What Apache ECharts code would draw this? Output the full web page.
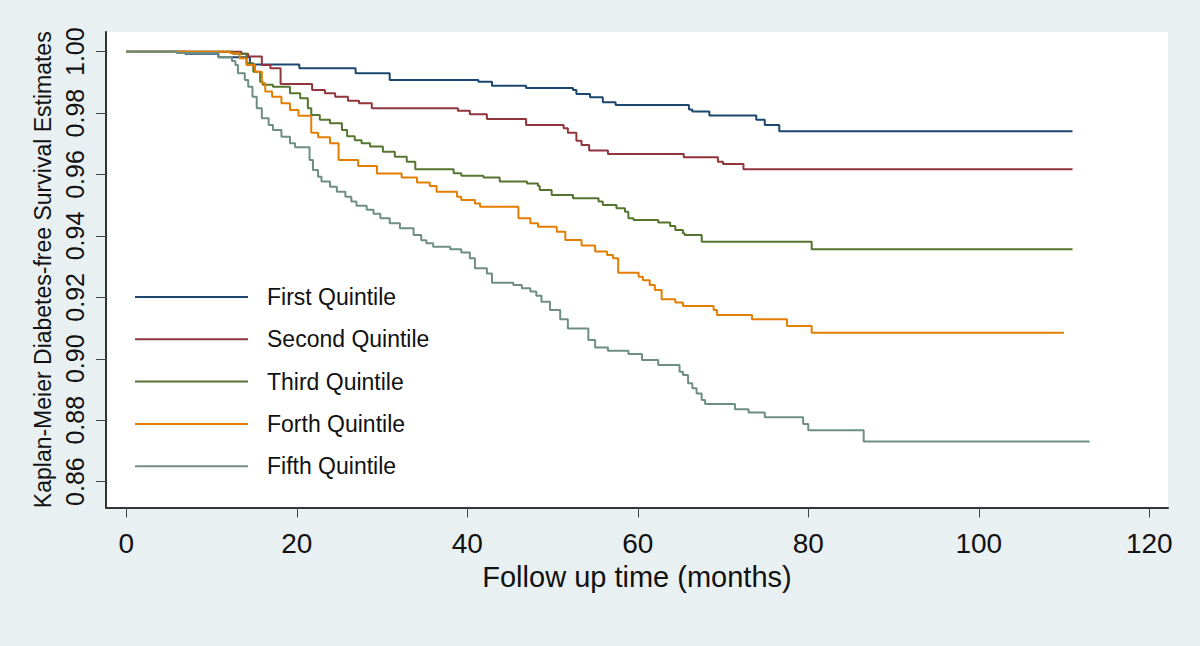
<!DOCTYPE html>
<html>
<head>
<meta charset="utf-8">
<script src="https://cdn.jsdelivr.net/npm/echarts@6/dist/echarts.min.js"></script>
<style>
  html, body { margin: 0; padding: 0; background: #e9f0f2; }
  #chart { width: 1200px; height: 646px; }
</style>
</head>
<body>
<div id="chart"></div>
<script>
// Kaplan-Meier step curves, [month, survival]
var firstQuintile = [
  [0, 1.0], [6.9, 0.9993], [10.8, 0.9982], [14.5, 0.9958], [20.3, 0.9946], [26.9, 0.9930],
  [30.9, 0.9908], [41.3, 0.9902], [42.9, 0.9889], [46.9, 0.9882], [52.4, 0.9875], [52.8, 0.9862],
  [54.4, 0.9852], [55.9, 0.9835], [57.4, 0.9826], [66.0, 0.9812], [66.4, 0.9805], [68.4, 0.9792],
  [73.9, 0.9778], [74.9, 0.9761], [76.6, 0.9741], [111.0, 0.9741]
];
var secondQuintile = [
  [0, 1.0], [13.5, 0.9993], [14.3, 0.9984], [15.9, 0.9957], [16.9, 0.9946], [18.1, 0.9895],
  [21.8, 0.9875], [23.3, 0.9865], [24.5, 0.9853], [26.0, 0.9840], [27.3, 0.9832], [28.8, 0.9816],
  [38.9, 0.9808], [40.3, 0.9796], [42.3, 0.9781], [46.9, 0.9761], [51.3, 0.9751], [51.8, 0.9736],
  [52.8, 0.9710], [53.4, 0.9696], [54.3, 0.9678], [56.5, 0.9667], [65.4, 0.9656], [69.4, 0.9642],
  [70.0, 0.9634], [72.4, 0.9617], [111.0, 0.9617]
];
var thirdQuintile = [
  [0, 1.0], [12.5, 0.9993], [14.1, 0.9962], [14.9, 0.9935], [15.7, 0.9902], [16.0, 0.9892],
  [17.2, 0.9886], [19.2, 0.9865], [20.4, 0.9848], [21.3, 0.9816], [21.7, 0.9794], [22.7, 0.9778],
  [23.9, 0.9767], [25.3, 0.9745], [25.9, 0.9725], [26.8, 0.9712], [27.6, 0.9702], [28.6, 0.9691],
  [30.1, 0.9674], [31.5, 0.9658], [32.9, 0.9642], [33.9, 0.9617], [38.4, 0.9604], [39.3, 0.9596],
  [41.9, 0.9590], [43.8, 0.9577], [47.0, 0.9571], [48.3, 0.9563], [48.5, 0.9550], [49.9, 0.9533],
  [52.4, 0.9523], [55.4, 0.9512], [55.9, 0.9501], [57.5, 0.9490], [58.5, 0.9479], [58.9, 0.9458],
  [59.5, 0.9452], [62.4, 0.9444], [63.8, 0.9432], [64.4, 0.9419], [65.3, 0.9409], [65.5, 0.9403],
  [67.5, 0.9381], [80.4, 0.9357], [111.0, 0.9357]
];
var forthQuintile = [
  [0, 1.0], [12.2, 0.9995], [13.3, 0.9979], [14.1, 0.9957], [15.1, 0.9935], [15.9, 0.9897],
  [16.3, 0.9870], [17.1, 0.9853], [18.2, 0.9832], [19.2, 0.9810], [20.2, 0.9791], [21.7, 0.9736],
  [22.5, 0.9721], [23.9, 0.9702], [24.9, 0.9647], [27.2, 0.9628], [29.4, 0.9603], [32.3, 0.9590],
  [34.1, 0.9574], [35.6, 0.9563], [36.4, 0.9544], [38.8, 0.9528], [39.3, 0.9517], [40.9, 0.9506],
  [41.5, 0.9495], [46.0, 0.9458], [47.4, 0.9441], [48.3, 0.9430], [50.5, 0.9414], [51.5, 0.9387],
  [53.4, 0.9369], [55.0, 0.9349], [56.4, 0.9338], [57.1, 0.9327], [57.7, 0.9280], [60.1, 0.9267],
  [60.6, 0.9256], [61.4, 0.9240], [62.0, 0.9224], [62.8, 0.9194], [64.4, 0.9183], [65.3, 0.9172],
  [68.9, 0.9159], [69.3, 0.9143], [73.4, 0.9129], [77.5, 0.9107], [80.4, 0.9085], [110.0, 0.9085]
];
var fifthQuintile = [
  [0, 1.0], [5.9, 0.9996], [10.8, 0.9982], [12.4, 0.9970], [12.8, 0.9957], [13.1, 0.9930],
  [13.9, 0.9908], [14.3, 0.9886], [14.8, 0.9853], [15.3, 0.9816], [15.9, 0.9783], [16.7, 0.9761],
  [17.2, 0.9745], [18.2, 0.9723], [19.2, 0.9702], [19.8, 0.9689], [21.5, 0.9647], [21.9, 0.9615],
  [22.5, 0.9593], [22.9, 0.9577], [23.9, 0.9560], [24.7, 0.9544], [25.7, 0.9528], [26.4, 0.9512],
  [27.0, 0.9498], [28.2, 0.9485], [29.0, 0.9472], [29.8, 0.9458], [30.9, 0.9441], [32.1, 0.9425],
  [33.7, 0.9403], [34.6, 0.9386], [35.2, 0.9376], [36.0, 0.9365], [38.0, 0.9357], [39.3, 0.9346],
  [40.3, 0.9327], [40.9, 0.9295], [42.3, 0.9278], [42.9, 0.9248], [45.4, 0.9240], [46.4, 0.9230],
  [47.4, 0.9219], [48.1, 0.9205], [48.7, 0.9186], [49.7, 0.9159], [50.9, 0.9129], [51.8, 0.9099],
  [54.2, 0.9061], [55.0, 0.9037], [56.5, 0.9026], [58.9, 0.9016], [60.5, 0.8996], [62.4, 0.8980],
  [64.9, 0.8958], [65.3, 0.8947], [65.9, 0.8920], [66.4, 0.8904], [66.9, 0.8887], [67.5, 0.8866],
  [67.9, 0.8853], [71.4, 0.8836], [73.0, 0.8825], [74.9, 0.8810], [79.4, 0.8788], [80.0, 0.8767],
  [86.5, 0.8731], [113.0, 0.8731]
];

var seriesNames = ['First Quintile', 'Second Quintile', 'Third Quintile', 'Forth Quintile', 'Fifth Quintile'];
var seriesData = [firstQuintile, secondQuintile, thirdQuintile, forthQuintile, fifthQuintile];
var colors = ['#1a476f', '#90353b', '#55752f', '#e37e00', '#6e8e84'];
var xTicks = [0, 20, 40, 60, 80, 100, 120];
var yTicks = [0.86, 0.88, 0.90, 0.92, 0.94, 0.96, 0.98, 1.00];

var font = 'Liberation Sans, Arial, sans-serif';
var chart = echarts.init(document.getElementById('chart'), null, { renderer: 'svg' });

chart.setOption({
  animation: false,
  backgroundColor: '#e9f0f2',
  color: colors,
  grid: {
    left: 106, right: 32, top: 32, bottom: 138.5,
    show: true, backgroundColor: '#ffffff', borderWidth: 0
  },
  legend: {
    orient: 'vertical',
    left: 135, top: 285,
    padding: 0,
    icon: 'rect',
    itemWidth: 113, itemHeight: 2, itemGap: 18.3,
    data: seriesNames,
    textStyle: { color: '#111', fontFamily: font, fontSize: 23, lineHeight: 24, padding: [0, 0, 0, 14] }
  },
  xAxis: {
    type: 'value',
    min: -2.38, max: 122.2,
    name: 'Follow up time (months)',
    nameLocation: 'middle',
    nameGap: 51,
    nameTextStyle: { color: '#111', fontFamily: font, fontSize: 29 },
    axisLine: { show: true, onZero: false, lineStyle: { color: '#333', width: 2 } },
    axisTick: { show: true, length: 10, customValues: xTicks, lineStyle: { color: '#444', width: 1 } },
    axisLabel: { customValues: xTicks, color: '#111', fontFamily: font, fontSize: 28, margin: 22 },
    splitLine: { show: false }
  },
  yAxis: {
    type: 'value',
    min: 0.85158, max: 1.00641,
    name: 'Kaplan-Meier Diabetes-free Survival Estimates',
    nameLocation: 'middle',
    nameGap: 50,
    nameTextStyle: { color: '#111', fontFamily: font, fontSize: 23 },
    axisLine: { show: true, onZero: false, lineStyle: { color: '#333', width: 2 } },
    axisTick: { show: true, length: 10, customValues: yTicks, lineStyle: { color: '#444', width: 1 } },
    axisLabel: {
      customValues: yTicks, rotate: 90, margin: 19,
      color: '#111', fontFamily: 'Liberation Sans Narrow, Arial Narrow, sans-serif', fontSize: 25,
      formatter: function (v) { return v.toFixed(2); }
    },
    splitLine: { show: false }
  },
  series: seriesData.map(function (d, i) {
    return {
      name: seriesNames[i],
      type: 'line',
      step: 'end',
      symbol: 'none',
      data: d,
      lineStyle: { color: colors[i], width: 2 },
      itemStyle: { color: colors[i] }
    };
  })
});
</script>
</body>
</html>
